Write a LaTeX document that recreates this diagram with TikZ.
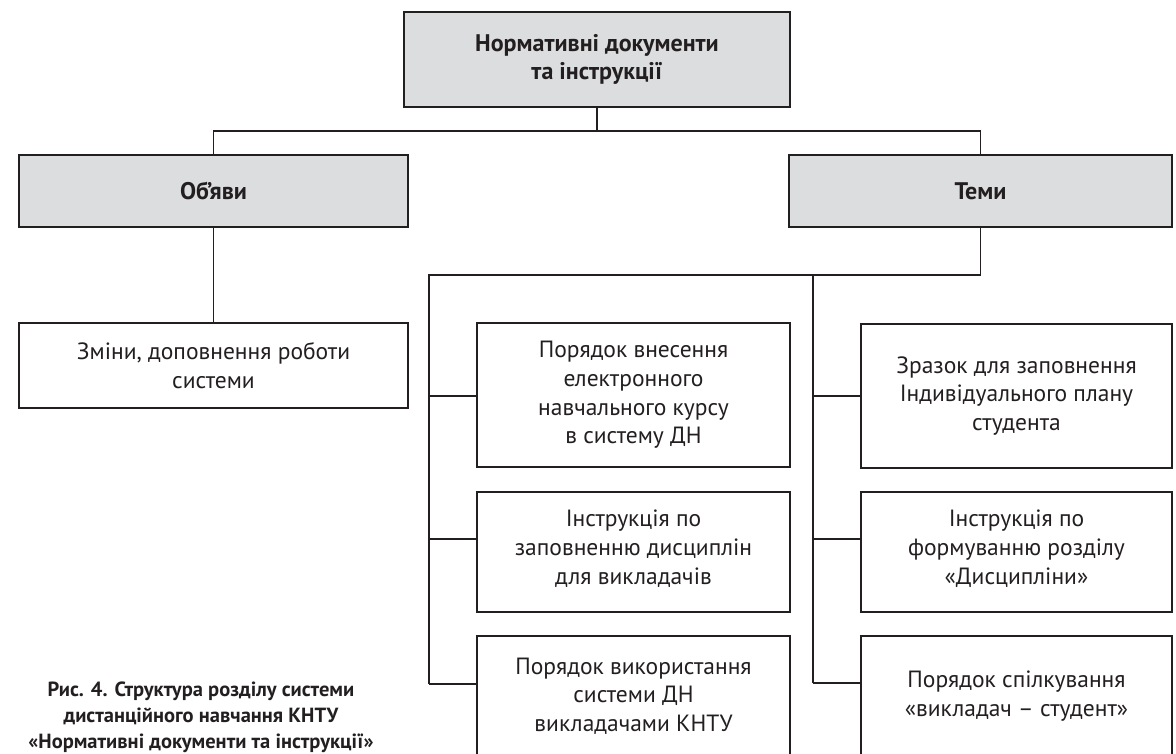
\documentclass[tikz,border=0pt]{standalone}
\usepackage{fontspec}
\setmainfont{PT Sans}
\definecolor{ink}{HTML}{231F20}
\definecolor{boxgray}{HTML}{DCDDDF}
\tikzset{
  basebox/.style={draw=ink, line width=2.4pt, inner sep=0pt, align=center, text=ink,
    font=\fontsize{23.5}{28.7}\selectfont},
  headbox/.style={basebox, fill=boxgray, font=\fontsize{24}{28.5}\selectfont\bfseries},
  leafbox/.style={basebox, fill=white},
  conn/.style={draw=ink, line width=1.1pt},
  capt/.style={align=center, text=ink, font=\fontsize{20.5}{26}\selectfont\bfseries}
}
\begin{document}
\begin{tikzpicture}[x=1pt,y=-1pt]
\useasboundingbox (0,0) rectangle (1176,753);
\clip (0,0) rectangle (1176,753);
% header boxes
\node[headbox, minimum width=386pt, minimum height=95pt] (top) at (597,59.5) {Нормативні документи\\та інструкції};
\node[headbox, minimum width=389pt, minimum height=72pt] (obj) at (213.5,191) {Об’яви};
\node[headbox, minimum width=383pt, minimum height=72pt] (temy) at (980.5,191) {Теми};
% leaf boxes
\node[leafbox, minimum width=389pt, minimum height=85pt] (zm) at (213.5,365.5) {Зміни, доповнення роботи\\системи};
\node[leafbox, minimum width=313pt, minimum height=144pt] (l1) at (633.5,395) {Порядок внесення\\електронного\\навчального курсу\\в систему ДН};
\node[leafbox, minimum width=313pt, minimum height=120pt, text depth=10pt] (l2) at (633.5,552) {Інструкція по\\заповненню дисциплін\\для викладачів};
\node[leafbox, minimum width=313pt, minimum height=120pt] (l3) at (633.5,696) {Порядок використання\\системи ДН\\викладачами КНТУ};
\node[leafbox, minimum width=311pt, minimum height=144pt] (r1) at (1016.5,396) {Зразок для заповнення\\Індивідуального плану\\студента};
\node[leafbox, minimum width=311pt, minimum height=120pt, text depth=10pt] (r2) at (1016.5,552) {Інструкція по\\формуванню розділу\\«Дисципліни»};
\node[leafbox, minimum width=311pt, minimum height=120pt] (r3) at (1016.5,696) {Порядок спілкування\\«викладач – студент»};
% caption
\node[capt] (cap) at (201,717) {Рис. 4. Структура розділу системи\\дистанційного навчання КНТУ\\«Нормативні документи та інструкції»};
% junction coordinates
\coordinate (j0) at (597,131);
\coordinate (j1) at (980.5,275);
\coordinate (lt) at (429,275);
\coordinate (rt) at (813,275);
\coordinate (l1s) at (429,396);
\coordinate (l2s) at (429,539);
\coordinate (l3s) at (429,684);
\coordinate (r1s) at (813,396);
\coordinate (r2s) at (813,539);
\coordinate (r3s) at (813,683);
% connectors
\draw[conn] (top.south) -- (j0);
\draw[conn] (obj.north) -- (obj.north |- j0) -- (temy.north |- j0) -- (temy.north);
\draw[conn] (obj.south) -- (zm.north);
\draw[conn] (temy.south) -- (j1) -- (lt) -- (l3s);
\draw[conn] (rt) -- (r3s);
\draw[conn] (l1s) -- (l1s -| l1.west);
\draw[conn] (l2s) -- (l2s -| l2.west);
\draw[conn] (l3s) -- (l3s -| l3.west);
\draw[conn] (r1s) -- (r1s -| r1.west);
\draw[conn] (r2s) -- (r2s -| r2.west);
\draw[conn] (r3s) -- (r3s -| r3.west);
\end{tikzpicture}
\end{document}
